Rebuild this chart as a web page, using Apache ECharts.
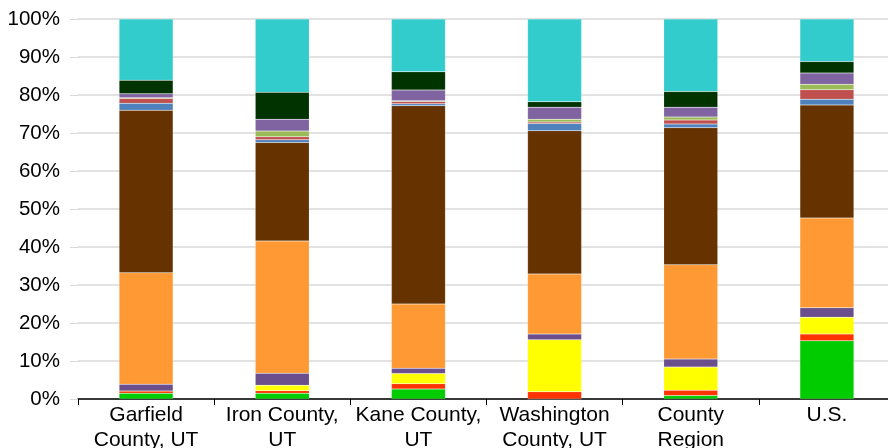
<!DOCTYPE html>
<html>
<head>
<meta charset="utf-8">
<script src="https://cdn.jsdelivr.net/npm/echarts@6/dist/echarts.min.js"></script>
<style>
  html, body { margin: 0; padding: 0; background: #fff; }
  #chart { width: 888px; height: 448px; }
</style>
</head>
<body>
<div id="chart"></div>
<script>
// Areas along the x axis
const categories = ['Garfield\nCounty, UT', 'Iron County,\nUT', 'Kane County,\nUT', 'Washington\nCounty, UT', 'County\nRegion', 'U.S.'];

// Percent share per stacked segment, bottom to top
const segGreen      = [1.5, 1.5, 2.6, 0.0, 0.9, 15.3];
const segRed        = [0.6, 0.7, 1.4, 1.9, 1.4, 1.8];
const segYellow     = [0.0, 1.4, 2.7, 13.7, 6.1, 4.4];
const segDarkPurple = [1.8, 3.2, 1.4, 1.5, 2.1, 2.5];
const segOrange     = [29.3, 34.8, 16.9, 15.8, 24.8, 23.6];
const segBrown      = [42.8, 25.9, 52.2, 37.7, 36.1, 29.8];
const segBlue       = [1.8, 0.7, 0.5, 1.9, 1.0, 1.5];
const segBrick      = [1.3, 0.8, 0.6, 0.4, 1.0, 2.5];
const segOlive      = [0.2, 1.5, 0.2, 0.7, 0.8, 1.4];
const segPurple     = [1.0, 3.1, 2.8, 3.2, 2.6, 3.0];
const segDarkGreen  = [3.6, 7.1, 4.8, 1.4, 4.1, 3.0];
const segCyan       = [16.1, 19.3, 13.9, 21.8, 19.1, 11.2];

const yTicks = { min: 0, max: 100, interval: 10 };

const layers = [
  { name: 'Segment 1', data: segGreen, color: '#00CC00' },
  { name: 'Segment 2', data: segRed, color: '#FF3300' },
  { name: 'Segment 3', data: segYellow, color: '#FFFF00' },
  { name: 'Segment 4', data: segDarkPurple, color: '#6B4F8C' },
  { name: 'Segment 5', data: segOrange, color: '#FF9933' },
  { name: 'Segment 6', data: segBrown, color: '#663300' },
  { name: 'Segment 7', data: segBlue, color: '#4F81BD' },
  { name: 'Segment 8', data: segBrick, color: '#C0504D' },
  { name: 'Segment 9', data: segOlive, color: '#9BBB59' },
  { name: 'Segment 10', data: segPurple, color: '#8064A2' },
  { name: 'Segment 11', data: segDarkGreen, color: '#003300' },
  { name: 'Segment 12', data: segCyan, color: '#33CCCC' }
];

const chart = echarts.init(document.getElementById('chart'), null, { renderer: 'canvas' });

chart.setOption({
  animation: false,
  backgroundColor: '#ffffff',
  grid: { left: 78, top: 19, width: 817, bottom: 49, containLabel: false, outerBoundsMode: 'none' },
  xAxis: {
    type: 'category',
    data: categories,
    axisLine: { show: true, lineStyle: { color: '#000000', width: 1.5 } },
    axisTick: { show: true, alignWithLabel: false, length: 6, lineStyle: { color: '#000000' } },
    axisLabel: {
      color: '#000000',
      fontFamily: 'Liberation Sans, Arial, sans-serif',
      fontSize: 21,
      lineHeight: 25,
      margin: 4,
      interval: 0
    },
    splitLine: { show: false }
  },
  yAxis: {
    type: 'value',
    min: yTicks.min,
    max: yTicks.max,
    interval: yTicks.interval,
    axisLine: { show: false },
    axisTick: { show: true, length: 8, lineStyle: { color: '#d9d9d9' } },
    axisLabel: {
      formatter: '{value}%',
      color: '#000000',
      fontFamily: 'Liberation Sans, Arial, sans-serif',
      fontSize: 20.5,
      margin: 18
    },
    splitLine: { show: true, lineStyle: { color: '#d9d9d9', width: 1.5 } }
  },
  series: layers.map(l => ({
    name: l.name,
    type: 'bar',
    stack: 'share',
    barWidth: 54,
    data: l.data,
    itemStyle: { color: l.color, borderColor: 'rgba(255,255,255,0.25)', borderWidth: 0.5 }
  }))
});
</script>
</body>
</html>
